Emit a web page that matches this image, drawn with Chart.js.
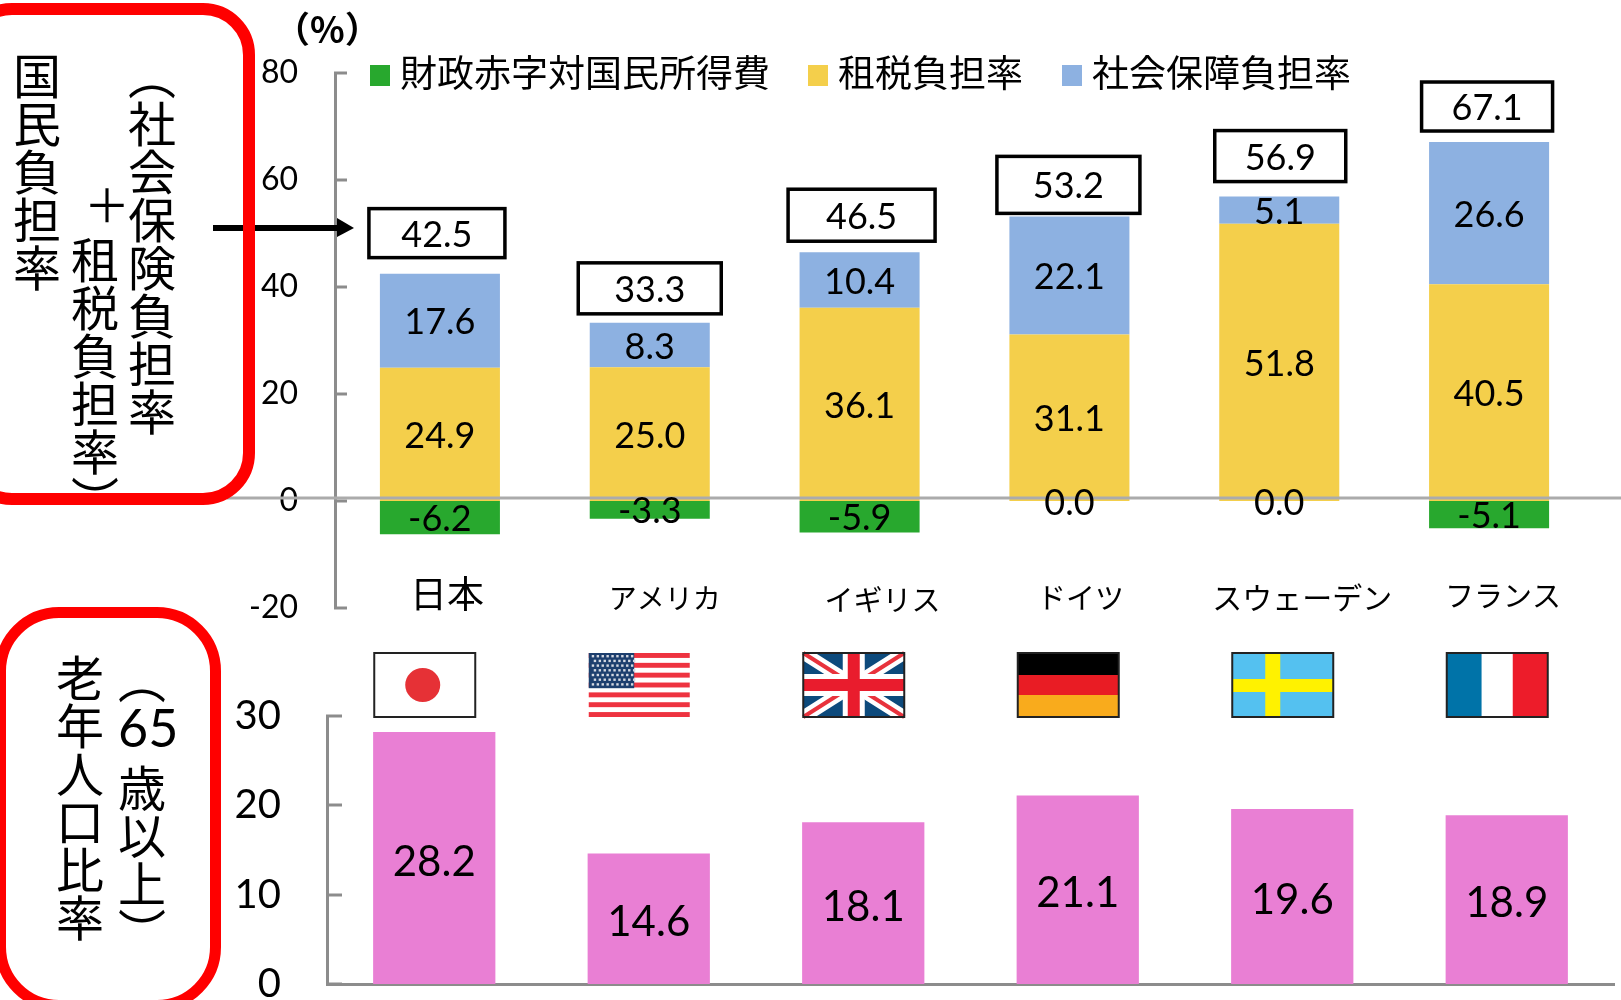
<!DOCTYPE html>
<html lang="ja">
<head>
<meta charset="utf-8">
<title>国民負担率と老年人口比率</title>
<script src="https://cdn.jsdelivr.net/npm/chart.js@4"></script>
<style>
  html, body { margin: 0; padding: 0; background: #fff; }
  #page { position: relative; width: 1621px; height: 1000px; overflow: hidden; }
  canvas { position: absolute; left: 0; }
  #burdenChart { top: 0; }
  #agingChart { top: 640px; }
  .note { position: absolute; color: #000; font-family: "Noto Sans CJK JP", sans-serif; line-height: 1; white-space: nowrap; }
  .tate { writing-mode: vertical-rl; font-size: 48px; }
  .redbox { position: absolute; box-sizing: border-box; border: 12px solid #ff0000; background: transparent; }
</style>
</head>
<body>
<div id="page">
  <canvas id="burdenChart" width="1621" height="640"></canvas>
  <canvas id="agingChart" width="1621" height="360"></canvas>

  <div class="redbox" style="left:-40px; top:3px; width:295px; height:502px; border-radius:52px;"></div>
  <div class="redbox" style="left:-5px; top:607px; width:226px; height:404px; border-radius:64px; border-width:11px;"></div>

  <div class="note" style="left:274px; top:9px; font-size:36px; font-weight:700;">（%）</div>

  <div class="note tate" style="left:13px; top:52px;">国民負担率</div>
  <div class="note" style="left:84px; top:179px; font-size:46px;">＋</div>
  <div class="note tate" style="left:71px; top:236px;">租税負担率）</div>
  <div class="note tate" style="left:128px; top:52px;">（社会保険負担率</div>

  <div class="note tate" style="left:56px; top:654px;">老年人口比率</div>
  <div class="note tate" style="left:118px; top:656px;">（</div>
  <div class="note" style="left:118px; top:701px; font-family:Lato, sans-serif; font-size:52px;">65</div>
  <div class="note tate" style="left:118px; top:764px;">歳以上）</div>
</div>

<script>
// ---------- Data ----------
const categories = ["日本", "アメリカ", "イギリス", "ドイツ", "スウェーデン", "フランス"];
const deficit = [-6.2, -3.3, -5.9, 0.0, 0.0, -5.1];
const taxBurden = [24.9, 25.0, 36.1, 31.1, 51.8, 40.5];
const socialBurden = [17.6, 8.3, 10.4, 22.1, 5.1, 26.6];
const totals = [42.5, 33.3, 46.5, 53.2, 56.9, 67.1];
const agedShare = [28.2, 14.6, 18.1, 21.1, 19.6, 18.9];
const burdenTicks = [80, 60, 40, 20, 0, -20];
const agedTicks = [30, 20, 10, 0];

// ---------- Look ----------
const GREEN = "#28a82e";
const YELLOW = "#f4cf4b";
const BLUE = "#8db1e1";
const PINK = "#e97fd4";
const AXIS = "#8c8c8c";
const CJK = '"Noto Sans CJK JP", sans-serif';
const NUM = "Lato, sans-serif";

// hand placed in the source slide, so nudged per country
const boxShiftX = [-3, 0, 2, -1, 1, -2];
const boxGap = [16, 9, 11, 3, 15, 11];
const boxW = [136, 143, 147, 143, 131, 131];
const boxH = [49, 51, 52, 57, 51, 49];
const labelShiftX = [7, 15, 23, 11, 23, 14];
const labelY = [594, 598, 600, 598, 598, 596];
const labelSize = [37, 28, 29, 29, 30, 29];
const legendX = [370, 808, 1062];

// ---------- Plugins ----------
function drawBarValues(chart, font, dy) {
  const ctx = chart.ctx;
  ctx.save();
  ctx.font = font;
  ctx.fillStyle = "#000";
  ctx.textAlign = "center";
  ctx.textBaseline = "middle";
  chart.data.datasets.forEach((ds, i) => {
    chart.getDatasetMeta(i).data.forEach((bar, j) => {
      const c = bar.getCenterPoint();
      ctx.fillText(ds.data[j].toFixed(1), c.x, c.y + dy);
    });
  });
  ctx.restore();
}

const burdenDecor = {
  id: "burdenDecor",
  afterDatasetsDraw(chart) {
    const ctx = chart.ctx;
    const x = chart.scales.x;
    const y = chart.scales.y;

    // line across at zero, sits a little above the axis tick
    ctx.save();
    ctx.strokeStyle = "#ababab";
    ctx.lineWidth = 3;
    ctx.beginPath();
    ctx.moveTo(227, y.getPixelForValue(0) - 3);
    ctx.lineTo(1621, y.getPixelForValue(0) - 3);
    ctx.stroke();
    ctx.restore();

    drawBarValues(chart, "36px " + NUM, 2);

    // totals in boxes over each bar
    ctx.save();
    totals.forEach((t, i) => {
      const cx = x.getPixelForValue(i) + boxShiftX[i];
      const bottom = y.getPixelForValue(t) - boxGap[i];
      ctx.fillStyle = "#fff";
      ctx.strokeStyle = "#000";
      ctx.lineWidth = 3.5;
      ctx.fillRect(cx - boxW[i] / 2, bottom - boxH[i], boxW[i], boxH[i]);
      ctx.strokeRect(cx - boxW[i] / 2, bottom - boxH[i], boxW[i], boxH[i]);
      ctx.fillStyle = "#000";
      ctx.font = "36px " + NUM;
      ctx.textAlign = "center";
      ctx.textBaseline = "middle";
      ctx.fillText(t.toFixed(1), cx, bottom - boxH[i] / 2 + 2);
    });

    // country names
    categories.forEach((name, i) => {
      ctx.fillStyle = "#000";
      ctx.textAlign = "center";
      ctx.textBaseline = "middle";
      ctx.font = labelSize[i] + "px " + CJK;
      ctx.fillText(name, x.getPixelForValue(i) + labelShiftX[i], labelY[i]);
    });

    // legend
    chart.data.datasets.forEach((ds, i) => {
      ctx.fillStyle = ds.backgroundColor;
      ctx.fillRect(legendX[i], 65, 20, 21);
      ctx.fillStyle = "#000";
      ctx.font = "37px " + CJK;
      ctx.textAlign = "left";
      ctx.textBaseline = "middle";
      ctx.fillText(ds.label, legendX[i] + 30, 73);
    });

    // arrow pointing at the total
    ctx.fillStyle = "#000";
    ctx.fillRect(213, 225, 126, 6);
    ctx.beginPath();
    ctx.moveTo(337, 218);
    ctx.lineTo(354, 228);
    ctx.lineTo(337, 237);
    ctx.closePath();
    ctx.fill();
    ctx.restore();
  }
};

function flagJapan(ctx, w, h) {
  ctx.fillStyle = "#fff";
  ctx.fillRect(0, 0, w, h);
  ctx.fillStyle = "#e63136";
  ctx.beginPath();
  ctx.ellipse(w * 0.48, h * 0.5, 17.5, 17, 0, 0, Math.PI * 2);
  ctx.fill();
}

function flagUS(ctx, w, h) {
  ctx.fillStyle = "#ee3340";
  for (let s = 0; s < 13; s += 2) ctx.fillRect(0, s * h / 13, w, h / 13);
  ctx.fillStyle = "#1d3f6e";
  ctx.fillRect(0, 0, w * 0.45, h * 0.55);
  ctx.fillStyle = "#d5d9e2";
  for (let r = 0; r < 7; r++) {
    for (let c = 0; c < 9; c++) {
      ctx.fillRect(3 + c * 4.9 + (r % 2) * 2, 2 + r * 4.7, 2.4, 2.4);
    }
  }
}

function flagUK(ctx, w, h) {
  ctx.fillStyle = "#0d4a7c";
  ctx.fillRect(0, 0, w, h);
  const diag = (color, lw) => {
    ctx.strokeStyle = color;
    ctx.lineWidth = lw;
    ctx.beginPath();
    ctx.moveTo(0, 0); ctx.lineTo(w, h);
    ctx.moveTo(w, 0); ctx.lineTo(0, h);
    ctx.stroke();
  };
  diag("#fff", 13);
  diag("#e8323c", 4);
  ctx.fillStyle = "#fff";
  ctx.fillRect(w / 2 - 11, 0, 22, h);
  ctx.fillRect(0, h / 2 - 11, w, 22);
  ctx.fillStyle = "#e91c2d";
  ctx.fillRect(w / 2 - 6, 0, 12, h);
  ctx.fillRect(0, h / 2 - 6, w, 12);
}

function flagGermany(ctx, w, h) {
  ctx.fillStyle = "#000";
  ctx.fillRect(0, 0, w, 22);
  ctx.fillStyle = "#e91c24";
  ctx.fillRect(0, 22, w, 20);
  ctx.fillStyle = "#f9ab1c";
  ctx.fillRect(0, 42, w, h - 42);
}

function flagSweden(ctx, w, h) {
  ctx.fillStyle = "#54c1f0";
  ctx.fillRect(0, 0, w, h);
  ctx.fillStyle = "#fff200";
  ctx.fillRect(33, 0, 15, h);
  ctx.fillRect(0, 26, w, 13);
}

function flagFrance(ctx, w, h) {
  ctx.fillStyle = "#0073a8";
  ctx.fillRect(0, 0, 35, h);
  ctx.fillStyle = "#fff";
  ctx.fillRect(35, 0, 31, h);
  ctx.fillStyle = "#ed1c2a";
  ctx.fillRect(66, 0, w - 66, h);
}

const flags = [flagJapan, flagUS, flagUK, flagGermany, flagSweden, flagFrance];

const agingDecor = {
  id: "agingDecor",
  afterDatasetsDraw(chart) {
    drawBarValues(chart, "42px " + NUM, 4);
    const ctx = chart.ctx;
    const top = chart.scales.y.getPixelForValue(30) - 63;
    flags.forEach((draw, i) => {
      const left = chart.scales.x.getPixelForValue(i) - 9 - 51;
      ctx.save();
      ctx.translate(left, top);
      draw(ctx, 101, 64);
      if (i !== 1) {
        ctx.strokeStyle = "#222";
        ctx.lineWidth = 2;
        ctx.strokeRect(0, 0, 101, 64);
      }
      ctx.restore();
    });
  }
};

// ---------- Charts ----------
function yAxis(ticks, min, max, step, fontSize, width, tickLen, pad) {
  return {
    stacked: true,
    min: min,
    max: max,
    // big tick padding would otherwise eat into the plot height
    afterFit: s => { s.width = width; s.paddingTop = 0; s.paddingBottom = 0; },
    afterBuildTicks: s => { s.ticks = ticks.map(v => ({ value: v })); },
    border: { color: AXIS, width: 3 },
    // lineWidth 0: a grid width makes the library pull bars off the zero base
    grid: { drawOnChartArea: false, lineWidth: 0, tickColor: AXIS, tickWidth: 3, tickLength: -tickLen },
    ticks: { stepSize: step, padding: pad, color: "#000", font: { family: "Lato", size: fontSize } }
  };
}

new Chart(document.getElementById("burdenChart"), {
  type: "bar",
  data: {
    labels: categories,
    datasets: [
      { label: "財政赤字対国民所得費", data: deficit, backgroundColor: GREEN },
      { label: "租税負担率", data: taxBurden, backgroundColor: YELLOW },
      { label: "社会保障負担率", data: socialBurden, backgroundColor: BLUE }
    ]
  },
  options: {
    responsive: false,
    animation: false,
    layout: { padding: { left: 235, right: 27, top: 73, bottom: 32 } },
    datasets: { bar: { categoryPercentage: 1, barPercentage: 0.572 } },
    plugins: { legend: { display: false }, tooltip: { enabled: false } },
    scales: {
      x: { stacked: true, display: false },
      y: yAxis(burdenTicks, -20, 80, 20, 32, 100, 12, 49)
    }
  },
  plugins: [burdenDecor]
});

new Chart(document.getElementById("agingChart"), {
  type: "bar",
  data: {
    labels: categories,
    datasets: [{ label: "老年人口比率", data: agedShare, backgroundColor: PINK }]
  },
  options: {
    responsive: false,
    animation: false,
    layout: { padding: { left: 227, right: 7, top: 76, bottom: 16 } },
    datasets: { bar: { categoryPercentage: 1, barPercentage: 0.57 } },
    plugins: { legend: { display: false }, tooltip: { enabled: false } },
    scales: {
      x: {
        stacked: true,
        afterFit: s => { s.height = 0; },
        border: { color: AXIS, width: 3 },
        grid: { display: false },
        ticks: { display: false }
      },
      y: yAxis(agedTicks, 0, 30, 10, 40, 100, 15, 61)
    }
  },
  plugins: [agingDecor]
});
</script>
</body>
</html>
